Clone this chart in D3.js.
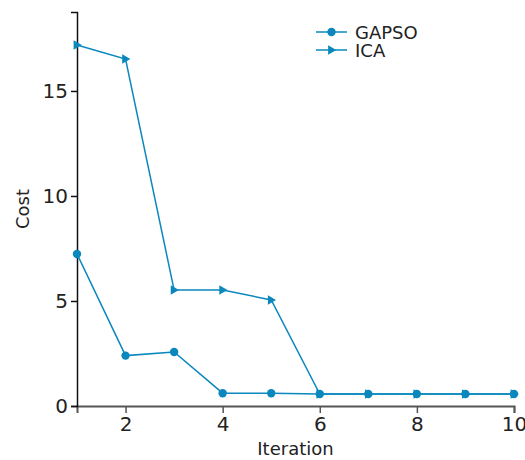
<!DOCTYPE html>
<html>
<head>
<meta charset="utf-8">
<script src="https://cdn.jsdelivr.net/npm/d3@7"></script>
<style>
  html, body { margin: 0; padding: 0; background: #fff; }
  svg { display: block; }
  text { font-family: "DejaVu Sans", sans-serif; fill: #222; }
</style>
</head>
<body>
<script>
// Cost per iteration for the two optimisers
const iterations = [1, 2, 3, 4, 5, 6, 7, 8, 9, 10];
const gapsoCost = [7.24, 2.4, 2.57, 0.61, 0.61, 0.57, 0.57, 0.57, 0.57, 0.57];
const icaCost = [17.19, 16.52, 5.52, 5.52, 5.05, 0.57, 0.57, 0.57, 0.57, 0.57];
const xTicks = [2, 4, 6, 8, 10];
const yTicks = [0, 5, 10, 15];
const seriesNames = ["GAPSO", "ICA"];

const W = 525, H = 460;
const color = "#0a88bd";

const svg = d3.select("body").append("svg").attr("width", W).attr("height", H);

const x = d3.scaleLinear().domain([1, 10]).range([77, 514]);
const y = d3.scaleLinear().domain([0, 18.76]).range([406, 12]);

// axes
const xAxis = svg.append("g").attr("transform", `translate(0,${y(0)})`)
  .call(d3.axisBottom(x).tickValues(xTicks).tickSize(7).tickSizeOuter(7).tickPadding(4));
xAxis.select(".domain").attr("stroke", "#555").attr("stroke-width", 2);
xAxis.selectAll(".tick line").attr("stroke", "#555").attr("stroke-width", 1.5);
xAxis.selectAll("text").attr("font-size", 20).attr("fill", "#222");

const yAxis = svg.append("g").attr("transform", `translate(${x(1)},0)`)
  .call(d3.axisLeft(y).tickValues(yTicks).tickSize(6).tickSizeOuter(6).tickPadding(3));
yAxis.select(".domain").attr("stroke", "#111").attr("stroke-width", 1.5);
yAxis.selectAll(".tick line").attr("stroke", "#111").attr("stroke-width", 1.5);
yAxis.selectAll("text").attr("font-size", 20).attr("fill", "#222");

// axis titles
svg.append("text").attr("x", (x(1) + x(10)) / 2).attr("y", 455)
  .attr("text-anchor", "middle").attr("font-size", 18).text("Iteration");
svg.append("text").attr("transform", `translate(29,${(y(0) + y(18.76)) / 2}) rotate(-90)`)
  .attr("text-anchor", "middle").attr("font-size", 18).text("Cost");

const line = d3.line().x((d, i) => x(iterations[i])).y(d => y(d));

const triangle = d3.symbol().type({
  draw(ctx, size) {
    const r = Math.sqrt(size) * 0.6;
    ctx.moveTo(r, 0);
    ctx.lineTo(-r * 0.7, -r);
    ctx.lineTo(-r * 0.7, r);
    ctx.closePath();
  }
}).size(64);

// GAPSO
svg.append("path").datum(gapsoCost).attr("d", line)
  .attr("fill", "none").attr("stroke", color).attr("stroke-width", 1.5);
svg.append("g").selectAll("circle").data(gapsoCost).join("circle")
  .attr("cx", (d, i) => x(iterations[i])).attr("cy", d => y(d)).attr("r", 4.2)
  .attr("fill", color);

// ICA
svg.append("path").datum(icaCost).attr("d", line)
  .attr("fill", "none").attr("stroke", color).attr("stroke-width", 1.5);
svg.append("g").selectAll("path").data(icaCost).join("path")
  .attr("transform", (d, i) => `translate(${x(iterations[i])},${y(d)})`)
  .attr("d", triangle).attr("fill", color);

// legend
const legend = svg.append("g").attr("transform", "translate(316,32)");
seriesNames.forEach((name, i) => {
  const g = legend.append("g").attr("transform", `translate(0,${i * 18})`);
  g.append("line").attr("x1", 0).attr("x2", 31).attr("y1", 0).attr("y2", 0)
    .attr("stroke", color).attr("stroke-width", 1.5);
  if (i === 0) {
    g.append("circle").attr("cx", 15.5).attr("cy", 0).attr("r", 4.2).attr("fill", color);
  } else {
    g.append("path").attr("transform", "translate(15.5,0)").attr("d", triangle).attr("fill", color);
  }
  g.append("text").attr("x", 39).attr("y", 7).attr("font-size", 18).text(name);
});
</script>
</body>
</html>
